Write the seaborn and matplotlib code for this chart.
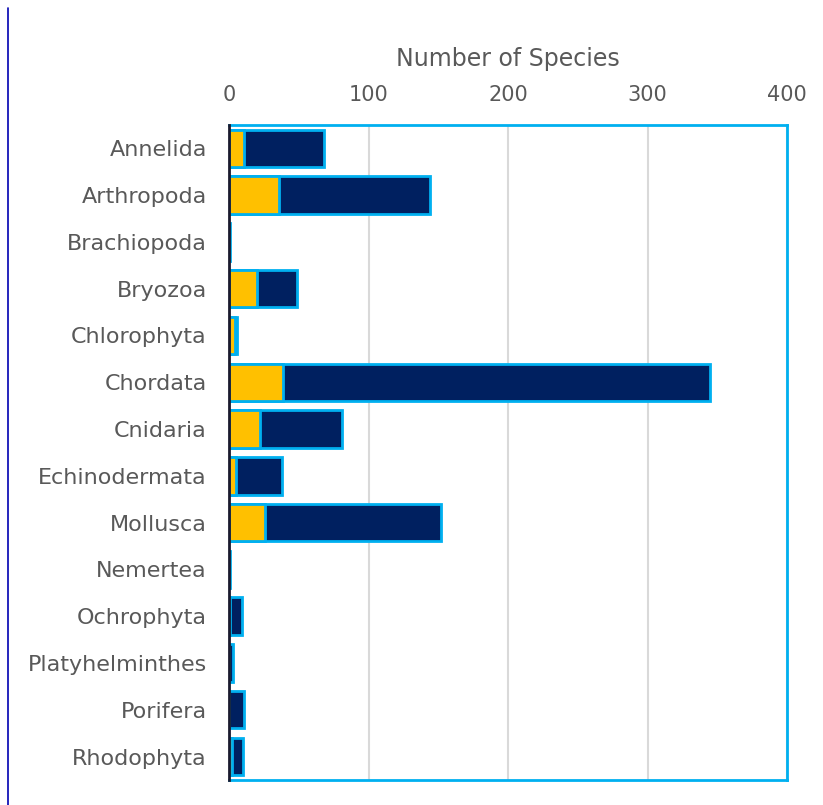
import matplotlib
matplotlib.use("Agg")
import matplotlib.pyplot as plt
import seaborn as sns
import pandas as pd
from matplotlib.lines import Line2D

phyla = ["Annelida", "Arthropoda", "Brachiopoda", "Bryozoa", "Chlorophyta",
         "Chordata", "Cnidaria", "Echinodermata", "Mollusca", "Nemertea",
         "Ochrophyta", "Platyhelminthes", "Porifera", "Rhodophyta"]
yellow_vals = [11, 36, 0, 20, 4, 39, 22, 5, 26, 0, 1, 0, 0, 2]
navy_vals = [57, 108, 1, 29, 2, 306, 59, 33, 126, 1, 8, 3, 11, 8]
xticks = [0, 100, 200, 300, 400]

totals = [a + b for a, b in zip(yellow_vals, navy_vals)]
df = pd.DataFrame({"Phylum": phyla, "Yellow": yellow_vals, "Total": totals})

sns.set_theme(style="white")
plt.rcParams["font.family"] = ["DejaVu Sans"]

fig = plt.figure(figsize=(8.23, 8.05), dpi=100)
ax = fig.add_axes([0.2783, 0.0311, 0.678, 0.8137])

edge = "#00B0F0"
sns.barplot(data=df, y="Phylum", x="Total", orient="h", color="#002060",
            saturation=1, edgecolor=edge, linewidth=2, width=0.8, ax=ax, zorder=3)
sns.barplot(data=df, y="Phylum", x="Yellow", orient="h", color="#FFC000",
            saturation=1, edgecolor=edge, linewidth=2, width=0.8, ax=ax, zorder=4)

ax.set_xlim(0, 400)
ax.set_xticks(xticks)
ax.xaxis.tick_top()
ax.xaxis.set_label_position("top")
ax.set_xlabel("Number of Species", fontsize=17, color="#595959", labelpad=14)
ax.set_ylabel("")
ax.tick_params(axis="x", labelsize=15, labelcolor="#595959", length=0, pad=14)
ax.tick_params(axis="y", labelsize=16, labelcolor="#595959", length=0, pad=16)
ax.grid(axis="x", color="#D9D9D9", linewidth=1.5, zorder=0)
ax.set_axisbelow(True)
for s in ["top", "right", "bottom"]:
    ax.spines[s].set_color(edge)
    ax.spines[s].set_linewidth(2)
    ax.spines[s].set_visible(True)
ax.spines["left"].set_color("#1a1a2e")
ax.spines["left"].set_linewidth(2)
ax.spines["left"].set_zorder(6)

fig.add_artist(Line2D([8 / 823, 8 / 823], [0.0, 1 - 8 / 805],
                      transform=fig.transFigure, color="#0000B0", linewidth=1.2))

fig.savefig("out.png", dpi=100, facecolor="white")
